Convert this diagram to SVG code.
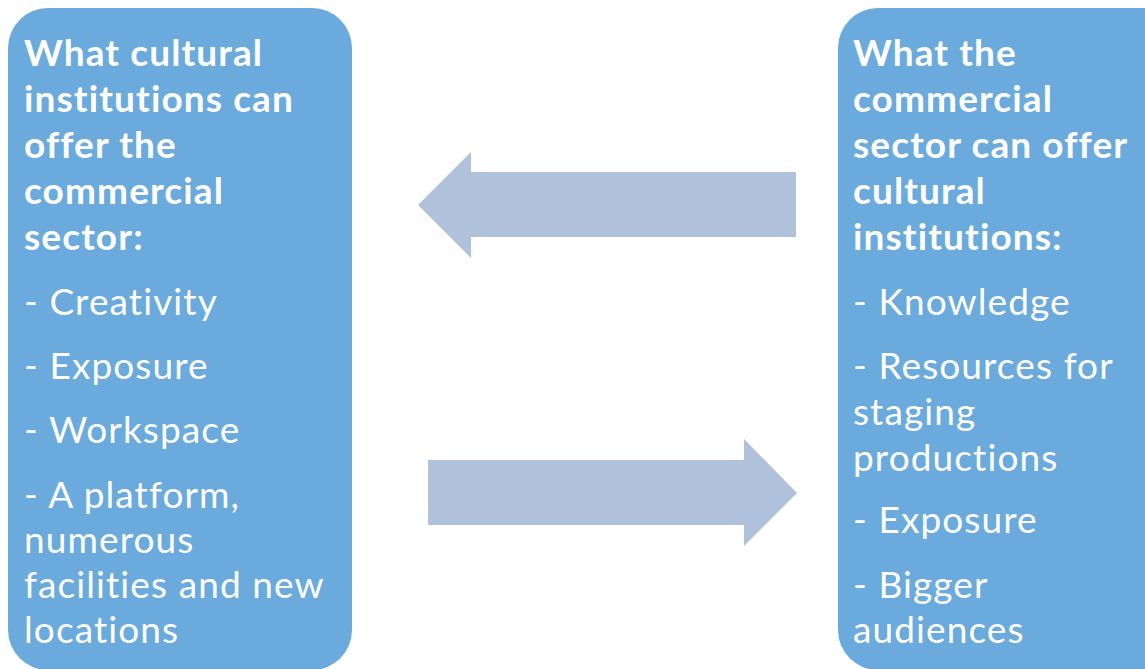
<svg xmlns="http://www.w3.org/2000/svg" width="1145" height="669" viewBox="0 0 1145 669">
<style>
.box{fill:#6AAADC}
.arrow{fill:#B0C1DC}
text{font-family:Lato,"Open Sans","Liberation Sans",sans-serif;fill:#FFFFFF;letter-spacing:1.1px}
.h{font-weight:bold;font-size:37px}
.i{font-size:37px}
</style>
<rect width="1145" height="669" fill="#FFFFFF"/>
<g id="connectors">
<polygon class="arrow" points="796,172 471,172 471,152 418,205 471,258 471,237 796,237"/>
<polygon class="arrow" points="428,460 744,460 744,439 797,493 744,546 744,525 428,525"/>
</g>
<g id="node-left">
<rect class="box" x="8" y="8" width="344" height="662" rx="40" ry="40"/>
<text class="h" x="24" y="66">What cultural</text>
<text class="h" x="24" y="112">institutions can</text>
<text class="h" x="24" y="158">offer the</text>
<text class="h" x="24" y="204">commercial</text>
<text class="h" x="24" y="250">sector:</text>
<text class="i" x="24" y="315">- Creativity</text>
<text class="i" x="24" y="379">- Exposure</text>
<text class="i" x="24" y="443">- Workspace</text>
<text class="i" x="24" y="508">- A platform,</text>
<text class="i" x="24" y="553">numerous</text>
<text class="i" x="24" y="598">facilities and new</text>
<text class="i" x="24" y="643">locations</text>
</g>
<g id="node-right">
<rect class="box" x="838" y="8" width="400" height="662" rx="40" ry="40"/>
<text class="h" x="853" y="66">What the</text>
<text class="h" x="853" y="112">commercial</text>
<text class="h" x="853" y="158">sector can offer</text>
<text class="h" x="853" y="204">cultural</text>
<text class="h" x="853" y="250">institutions:</text>
<text class="i" x="853" y="315">- Knowledge</text>
<text class="i" x="853" y="379">- Resources for</text>
<text class="i" x="853" y="425">staging</text>
<text class="i" x="853" y="471">productions</text>
<text class="i" x="853" y="533">- Exposure</text>
<text class="i" x="853" y="598">- Bigger</text>
<text class="i" x="853" y="643">audiences</text>
</g>
</svg>
